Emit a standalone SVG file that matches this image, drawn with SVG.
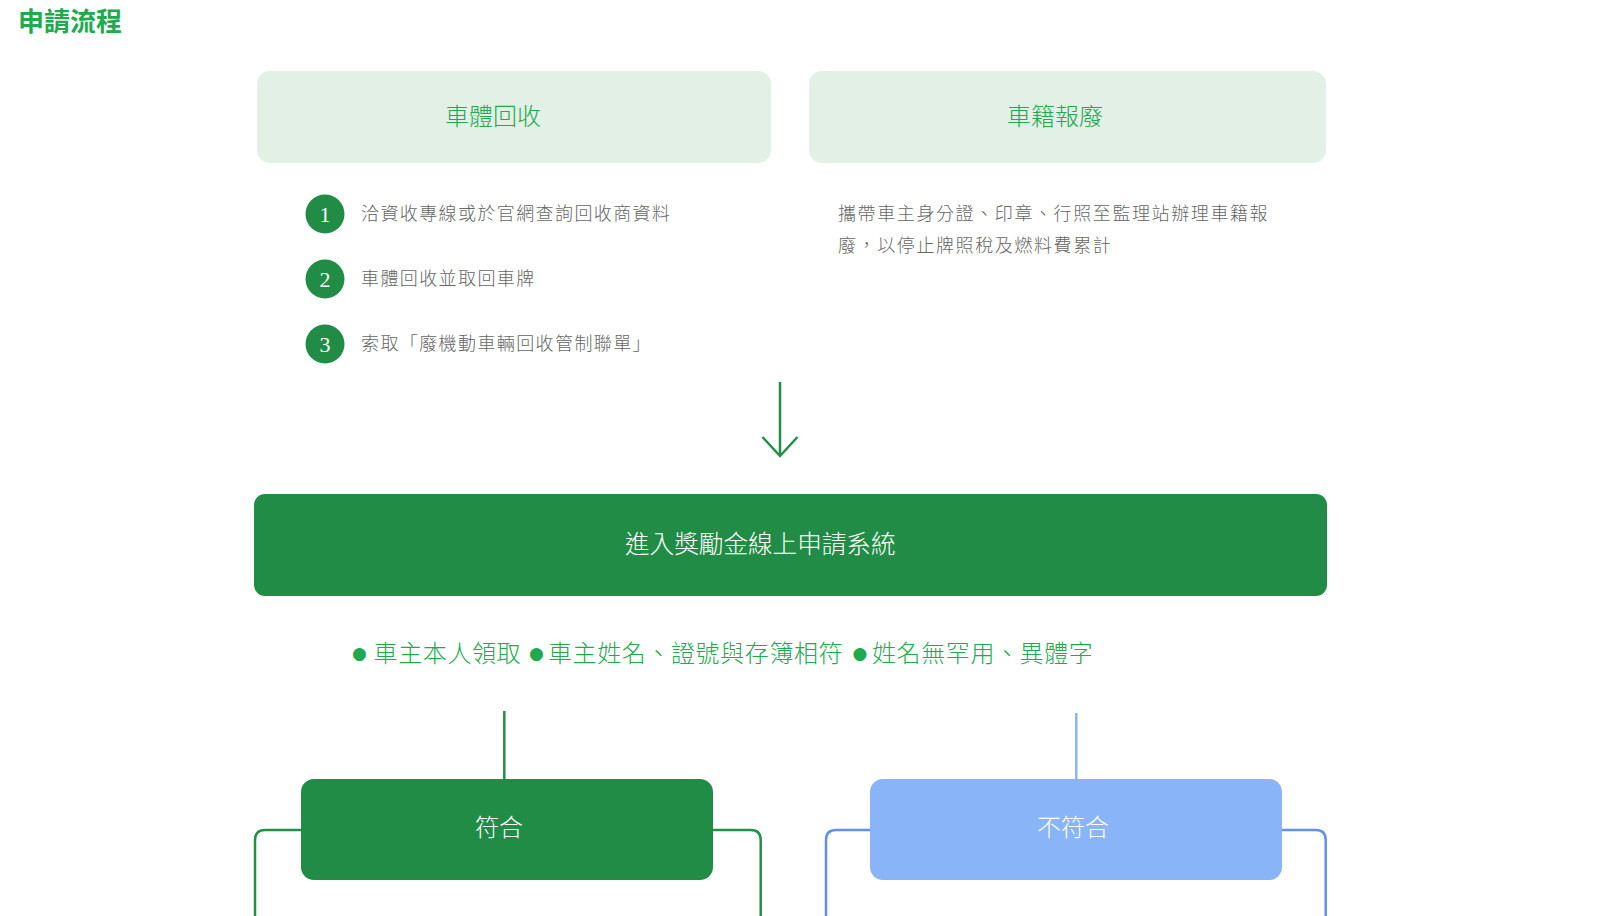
<svg xmlns="http://www.w3.org/2000/svg" width="1620" height="916" viewBox="0 0 1620 916" xml:lang="zh-TW" lang="zh-TW">
<defs>
<style>
text{font-family:"Noto Sans CJK TC","Noto Sans CJK SC",sans-serif}
.title{font-size:26px;font-weight:700;fill:#22a84f}
.lbl{font-size:24px;fill:#22a84f;font-weight:300}
.item{font-size:18px;fill:#666;letter-spacing:1.4px;font-weight:300}
.num{font-family:"Liberation Serif",serif;font-size:22px;fill:#fff;text-anchor:middle}
.white{font-size:24px;fill:#fff;font-weight:300}
.crit{font-size:24px;fill:#22a84f;letter-spacing:0.6px;font-weight:300}
.bul{font-family:"DejaVu Sans",sans-serif;font-size:17px;fill:#22a84f;font-weight:400}
.lightbox{fill:#e2f0e6}
.dark{fill:#218c45}
.blue{fill:#8ab4f8}
.gline{stroke:#239047;stroke-width:2.5;fill:none}
.bline{stroke:#6490ea;stroke-width:2.5;fill:none}
</style>
</defs>
<rect width="1620" height="916" fill="#fff"/>
<text class="title" x="18" y="31">申請流程</text>

<g id="box-recycle">
<rect class="lightbox" x="257" y="71" width="514" height="92" rx="13"/>
<text class="lbl" x="445" y="125">車體回收</text>
</g>
<g id="box-dereg">
<rect class="lightbox" x="809" y="71" width="517" height="92" rx="13"/>
<text class="lbl" x="1007" y="125">車籍報廢</text>
</g>

<g id="step1">
<circle class="dark" cx="325" cy="214" r="19.5"/>
<text class="num" x="325" y="221.5">1</text>
<text class="item" x="361" y="220">洽資收專線或於官網查詢回收商資料</text>
</g>
<g id="step2">
<circle class="dark" cx="325" cy="279" r="19.5"/>
<text class="num" x="325" y="286.5">2</text>
<text class="item" x="361" y="285">車體回收並取回車牌</text>
</g>
<g id="step3">
<circle class="dark" cx="325" cy="344" r="19.5"/>
<text class="num" x="325" y="351.5">3</text>
<text class="item" x="361" y="350">索取「廢機動車輛回收管制聯單」</text>
</g>

<g id="dereg-desc">
<text class="item" x="838" y="219.5" style="letter-spacing:1.6px">攜帶車主身分證、印章、行照至監理站辦理車籍報</text>
<text class="item" x="838" y="251.5" style="letter-spacing:1.6px">廢，以停止牌照稅及燃料費累計</text>
</g>

<g id="connectors">
<line class="gline" x1="780" y1="382" x2="780" y2="456"/>
<polyline class="gline" points="762.5,437 780,456 797.5,437"/>
<line class="gline" x1="504.3" y1="711" x2="504.3" y2="780"/>
<line x1="1076.3" y1="713" x2="1076.3" y2="780" stroke="#8ab4f8" stroke-width="2.5"/>
<path class="gline" d="M301,830 H265 Q255,830 255,840 V916"/>
<path class="gline" d="M712,830 H750.7 Q760.7,830 760.7,840 V916"/>
<path class="bline" d="M870,830 H836 Q826,830 826,840 V916"/>
<path class="bline" d="M1282,830 H1315.7 Q1325.7,830 1325.7,840 V916"/>
</g>

<g id="system">
<rect class="dark" x="254" y="494" width="1073" height="102" rx="11"/>
<text class="white" x="625" y="553" style="font-size:24.6px">進入獎勵金線上申請系統</text>
</g>

<g id="criteria">
<text class="crit" y="662"><tspan class="bul" xml:lang="en" lang="en" x="352" y="659">●</tspan><tspan x="373.6" y="662">車主本人領取</tspan><tspan class="bul" xml:lang="en" lang="en" x="529" y="659">●</tspan><tspan x="548" y="662">車主姓名、證號與存簿相符</tspan><tspan class="bul" xml:lang="en" lang="en" x="852.5" y="659">●</tspan><tspan x="872" y="662">姓名無罕用、異體字</tspan></text>
</g>

<g id="pass">
<rect class="dark" x="301" y="779" width="412" height="101" rx="13"/>
<text class="white" x="475" y="836">符合</text>
</g>
<g id="fail">
<rect class="blue" x="870" y="779" width="412" height="101" rx="13"/>
<text class="white" x="1037" y="836">不符合</text>
</g>
</svg>
